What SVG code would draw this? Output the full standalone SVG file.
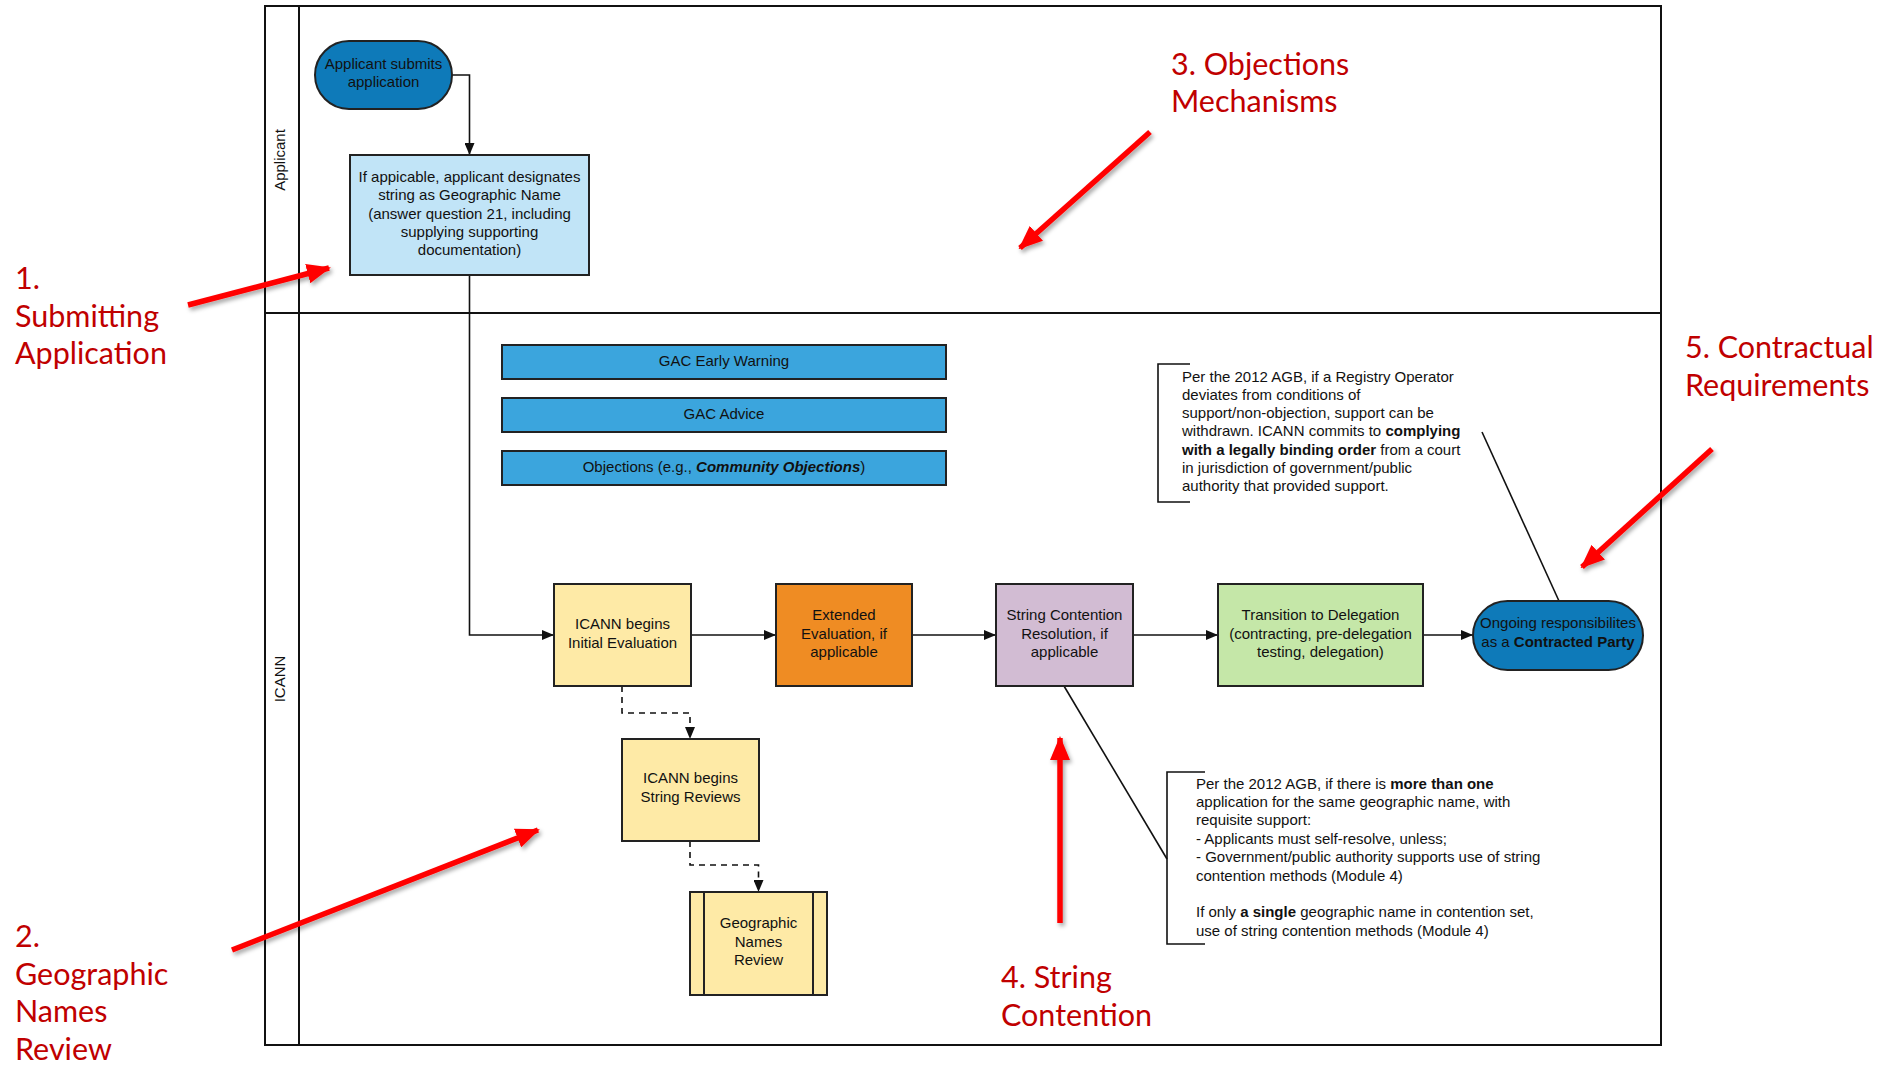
<svg xmlns="http://www.w3.org/2000/svg" width="1878" height="1068" viewBox="0 0 1878 1068">
<style>
.t{font-family:"Liberation Sans",Arial,sans-serif;font-size:15px;fill:#111}
.c{text-anchor:middle}
.b{font-weight:bold}
.n{stroke:#222;stroke-width:2}
.lane{fill:none;stroke:#111;stroke-width:2}
.con{fill:none;stroke:#111;stroke-width:1.6}
.dash{stroke-dasharray:6,5}
.red{font-family:Lato,"Open Sans",sans-serif;font-size:30.5px;fill:#c00000}
.ra{stroke:#ff0000;stroke-width:5.5;fill:none;stroke-linecap:butt}
</style>
<defs>
<marker id="ah" viewBox="0 0 12 10" refX="12" refY="5" markerWidth="12" markerHeight="10" markerUnits="userSpaceOnUse" orient="auto">
<path d="M0,0 L12,5 L0,10 Z" fill="#111"/>
</marker>
<marker id="rh" viewBox="0 0 24 20" refX="22" refY="10" markerWidth="24" markerHeight="20" markerUnits="userSpaceOnUse" orient="auto">
<path d="M0,0 L24,10 L0,20 Z" fill="#ff0000"/>
</marker>
<filter id="sh" x="-20%" y="-20%" width="140%" height="140%">
<feDropShadow dx="2" dy="3" stdDeviation="2" flood-color="#000" flood-opacity="0.35"/>
</filter>
</defs>

<g id="pool">
<rect class="lane" x="265" y="6" width="1396" height="1039"/>
<line class="lane" x1="299" y1="6" x2="299" y2="1045"/>
<line class="lane" x1="265" y1="313" x2="1661" y2="313"/>
<text class="t c" transform="rotate(-90 280 160)" x="280" y="165">Applicant</text>
<text class="t c" transform="rotate(-90 280 679)" x="280" y="684">ICANN</text>
</g>

<g id="connectors">
<path class="con" d="M452,75 H469.5 V155" marker-end="url(#ah)"/>
<path class="con" d="M469.5,275 V635 H554" marker-end="url(#ah)"/>
<path class="con" d="M691,635 H776" marker-end="url(#ah)"/>
<path class="con" d="M912,635 H996" marker-end="url(#ah)"/>
<path class="con" d="M1133,635 H1218" marker-end="url(#ah)"/>
<path class="con" d="M1423,635 H1473" marker-end="url(#ah)"/>
<path class="con dash" d="M622,686 V713 H690 V739" marker-end="url(#ah)"/>
<path class="con dash" d="M690,841 V865 H758.5 V892" marker-end="url(#ah)"/>
<line class="con" x1="1064" y1="686" x2="1167" y2="859"/>
<line class="con" x1="1482" y1="432" x2="1559" y2="601"/>
</g>

<g id="n-submit">
<rect class="n" x="315" y="41" width="137" height="68" rx="34" fill="#0e7ab9"/>
<text class="t c" x="383.5" y="69">Applicant submits</text>
<text class="t c" x="383.5" y="87">application</text>
</g>

<g id="n-designate">
<rect class="n" x="350" y="155" width="239" height="120" fill="#c1e4f7"/>
<text class="t c" x="469.5" y="182">If appicable, applicant designates</text>
<text class="t c" x="469.5" y="200.3">string as Geographic Name</text>
<text class="t c" x="469.5" y="218.6">(answer question 21, including</text>
<text class="t c" x="469.5" y="236.9">supplying supporting</text>
<text class="t c" x="469.5" y="255.2">documentation)</text>
</g>

<g id="n-gac-ew">
<rect class="n" x="502" y="345" width="444" height="34" fill="#3ba5dd"/>
<text class="t c" x="724" y="365.5">GAC Early Warning</text>
</g>
<g id="n-gac-adv">
<rect class="n" x="502" y="398" width="444" height="34" fill="#3ba5dd"/>
<text class="t c" x="724" y="418.5">GAC Advice</text>
</g>
<g id="n-objections">
<rect class="n" x="502" y="451" width="444" height="34" fill="#3ba5dd"/>
<text class="t c" x="724" y="471.5">Objections (e.g., <tspan font-weight="bold" font-style="italic">Community Objections</tspan>)</text>
</g>

<g id="n-initial">
<rect class="n" x="554" y="584" width="137" height="102" fill="#feeaa6"/>
<text class="t c" x="622.5" y="629">ICANN begins</text>
<text class="t c" x="622.5" y="648">Initial Evaluation</text>
</g>
<g id="n-extended">
<rect class="n" x="776" y="584" width="136" height="102" fill="#ef8c23"/>
<text class="t c" x="844" y="620">Extended</text>
<text class="t c" x="844" y="638.5">Evaluation, if</text>
<text class="t c" x="844" y="657">applicable</text>
</g>
<g id="n-contention">
<rect class="n" x="996" y="584" width="137" height="102" fill="#d2bcd3"/>
<text class="t c" x="1064.5" y="620">String Contention</text>
<text class="t c" x="1064.5" y="638.5">Resolution, if</text>
<text class="t c" x="1064.5" y="657">applicable</text>
</g>
<g id="n-transition">
<rect class="n" x="1218" y="584" width="205" height="102" fill="#c5e7a8"/>
<text class="t c" x="1320.5" y="620">Transition to Delegation</text>
<text class="t c" x="1320.5" y="638.5">(contracting, pre-delegation</text>
<text class="t c" x="1320.5" y="657">testing, delegation)</text>
</g>
<g id="n-ongoing">
<rect class="n" x="1473" y="601" width="170" height="69" rx="34.5" fill="#0e7ab9"/>
<text class="t c" x="1558" y="628">Ongoing responsibilites</text>
<text class="t c" x="1558" y="647">as a <tspan class="b">Contracted Party</tspan></text>
</g>
<g id="n-string-reviews">
<rect class="n" x="622" y="739" width="137" height="102" fill="#feeaa6"/>
<text class="t c" x="690.5" y="783">ICANN begins</text>
<text class="t c" x="690.5" y="802">String Reviews</text>
</g>
<g id="n-geo-review">
<rect class="n" x="690" y="892" width="137" height="103" fill="#feeaa6"/>
<line class="n" x1="704" y1="892" x2="704" y2="995"/>
<line class="n" x1="813" y1="892" x2="813" y2="995"/>
<text class="t c" x="758.5" y="928">Geographic</text>
<text class="t c" x="758.5" y="946.5">Names</text>
<text class="t c" x="758.5" y="965">Review</text>
</g>

<g id="note-contract">
<path class="con" d="M1190,364 H1158 V502 H1190"/>
<text class="t" x="1182" y="381.5">Per the 2012 AGB, if a Registry Operator</text>
<text class="t" x="1182" y="399.8">deviates from conditions of</text>
<text class="t" x="1182" y="418.1">support/non-objection, support can be</text>
<text class="t" x="1182" y="436.4">withdrawn. ICANN commits to <tspan class="b">complying</tspan></text>
<text class="t" x="1182" y="454.7"><tspan class="b">with a legally binding order</tspan> from a court</text>
<text class="t" x="1182" y="473">in jurisdiction of government/public</text>
<text class="t" x="1182" y="491.3">authority that provided support.</text>
</g>

<g id="note-contention">
<path class="con" d="M1205,772 H1167 V944 H1205"/>
<text class="t" x="1196" y="788.5">Per the 2012 AGB, if there is <tspan class="b">more than one</tspan></text>
<text class="t" x="1196" y="806.9">application for the same geographic name, with</text>
<text class="t" x="1196" y="825.3">requisite support:</text>
<text class="t" x="1196" y="843.7">- Applicants must self-resolve, unless;</text>
<text class="t" x="1196" y="862.1">- Government/public authority supports use of string</text>
<text class="t" x="1196" y="880.5">contention methods (Module 4)</text>
<text class="t" x="1196" y="917.3">If only <tspan class="b">a single</tspan> geographic name in contention set,</text>
<text class="t" x="1196" y="935.7">use of string contention methods (Module 4)</text>
</g>

<g id="callouts">
<g filter="url(#sh)">
<line class="ra" x1="188" y1="305" x2="329" y2="268" marker-end="url(#rh)"/>
<line class="ra" x1="232" y1="950" x2="538" y2="830" marker-end="url(#rh)"/>
<line class="ra" x1="1150" y1="132" x2="1020" y2="248" marker-end="url(#rh)"/>
<line class="ra" x1="1060" y1="923" x2="1060" y2="738" marker-end="url(#rh)"/>
<line class="ra" x1="1712" y1="449" x2="1582" y2="567" marker-end="url(#rh)"/>
</g>
<text class="red" x="15" y="289">1.</text>
<text class="red" x="15" y="326.5">Submitting</text>
<text class="red" x="15" y="364">Application</text>
<text class="red" x="15" y="947">2.</text>
<text class="red" x="15" y="984.5">Geographic</text>
<text class="red" x="15" y="1022">Names</text>
<text class="red" x="15" y="1059.5">Review</text>
<text class="red" x="1171" y="75">3. Objections</text>
<text class="red" x="1171" y="112">Mechanisms</text>
<text class="red" x="1001" y="988">4. String</text>
<text class="red" x="1001" y="1026">Contention</text>
<text class="red" x="1685" y="358">5. Contractual</text>
<text class="red" x="1685" y="396">Requirements</text>
</g>
</svg>
